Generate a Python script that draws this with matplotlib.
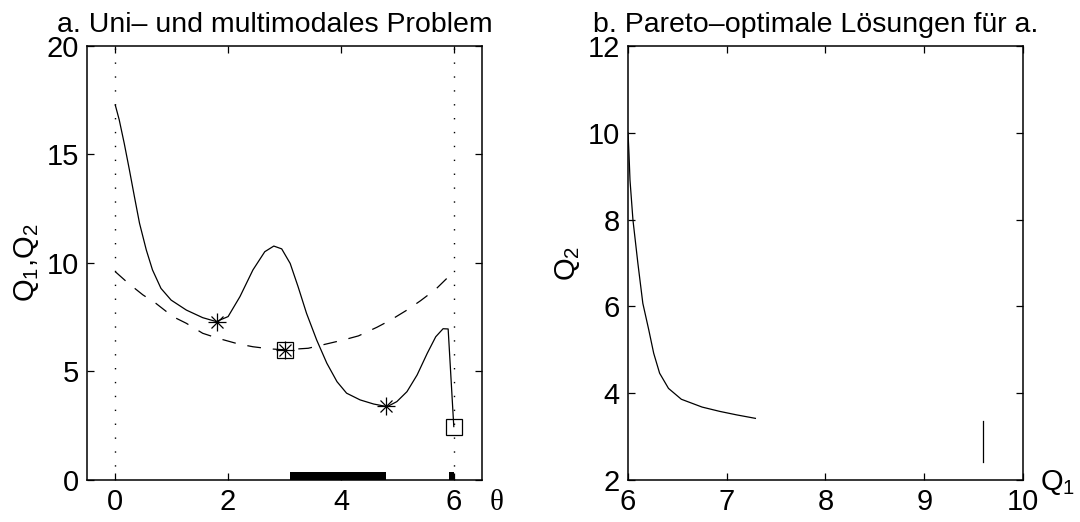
import matplotlib.pyplot as plt
import numpy as np

plt.rcParams['font.family'] = ['Liberation Sans', 'DejaVu Sans']
plt.rcParams['mathtext.fontset'] = 'custom'
plt.rcParams['mathtext.rm'] = 'Liberation Sans'
plt.rcParams['mathtext.it'] = 'Liberation Sans'

# Q1 (solid) over theta
theta_q1 = [0.0, 0.07, 0.16, 0.25, 0.34, 0.43, 0.55, 0.66, 0.81, 0.99, 1.26, 1.55, 1.79,
            2.0, 2.21, 2.44, 2.65, 2.81, 2.95, 3.10, 3.24, 3.39, 3.57, 3.75, 3.93, 4.10,
            4.34, 4.58, 4.82, 4.99, 5.17, 5.35, 5.53, 5.68, 5.81, 5.90, 6.0]
q1 = [17.28, 16.6, 15.5, 14.3, 13.05, 11.83, 10.6, 9.68, 8.83, 8.29, 7.83, 7.48, 7.30,
      7.53, 8.45, 9.68, 10.52, 10.78, 10.65, 9.98, 8.91, 7.68, 6.45, 5.38, 4.53, 4.0,
      3.69, 3.5, 3.38, 3.61, 4.07, 4.84, 5.84, 6.6, 6.97, 6.96, 2.46]

# Q2 (dashed) over theta
theta_q2 = [0.0, 0.22, 0.49, 0.72, 1.02, 1.26, 1.55, 1.82, 2.18, 2.44, 2.75, 3.0, 3.42,
            4.04, 4.31, 4.64, 4.88, 5.17, 5.41, 5.68, 5.90]
q2 = [9.6, 9.09, 8.53, 8.14, 7.53, 7.22, 6.76, 6.53, 6.27, 6.14, 6.04, 6.0, 6.07,
      6.45, 6.64, 7.04, 7.37, 7.83, 8.26, 8.79, 9.35]

# local minima / optima
star_theta = [1.8, 3.0, 4.8]
star_q = [7.3, 6.0, 3.4]
square_theta = [3.0, 6.0]
square_q = [6.0, 2.46]

# pareto set intervals on theta axis (start, end)
pareto_start = [3.1, 5.91]
pareto_end = [4.8, 6.0]
bar_h = 0.38

# pareto front
front_q1 = [6.0, 6.01, 6.02, 6.05, 6.10, 6.15, 6.21, 6.26, 6.32, 6.41, 6.54, 6.75, 6.93, 7.10, 7.29]
front_q2 = [10.0, 9.5, 8.91, 7.99, 6.99, 6.07, 5.46, 4.92, 4.46, 4.11, 3.86, 3.68, 3.58, 3.5, 3.42]
front2_q1 = [9.6, 9.6]
front2_q2 = [3.35, 2.42]

fs = 21
fig = plt.figure(figsize=(10.8, 5.22), dpi=100)
ax1 = fig.add_axes([0.0806, 0.0805, 0.3657, 0.8314])
ax2 = fig.add_axes([0.5815, 0.0805, 0.3657, 0.8314])

# left panel
ax1.axvline(0, color='k', ls=(0, (1, 9)), lw=1.0)
ax1.axvline(6, color='k', ls=(0, (1, 9)), lw=1.0)
ax1.plot(theta_q1, q1, color='k', lw=0.9)
ax1.plot(theta_q2, q2, color='k', lw=0.9, ls=(0, (11, 9.5)))
ax1.plot(star_theta, star_q, ls='none', marker='+', ms=13, mew=0.9, color='k')
ax1.plot(star_theta, star_q, ls='none', marker='x', ms=9, mew=0.9, color='k')
ax1.plot(square_theta, square_q, ls='none', marker='s', ms=11, mew=0.9, mfc='none', mec='k')
ax1.bar(pareto_start, bar_h, width=np.array(pareto_end) - np.array(pareto_start),
        bottom=0, align='edge', color='k', lw=0)
ax1.set_xlim(-0.5, 6.5)
ax1.set_ylim(0, 20)
ax1.set_xticks([0, 2, 4, 6])
ax1.set_yticks([0, 5, 10, 15, 20])
ax1.set_title('a. Uni– und multimodales Problem', fontsize=20.5, pad=10, x=0.475)
ax1.set_ylabel(r'$\mathregular{Q_1{,}Q_2}$', fontsize=fs, labelpad=4)
ax1.text(6.75, -0.45, 'θ', fontsize=fs, family=['Liberation Serif', 'DejaVu Serif'],
         ha='center', va='top')

# right panel
ax2.plot(front_q1, front_q2, color='k', lw=0.9)
ax2.plot(front2_q1, front2_q2, color='k', lw=0.9)
ax2.set_xlim(6, 10)
ax2.set_ylim(2, 12)
ax2.set_xticks([6, 7, 8, 9, 10])
ax2.set_yticks([2, 4, 6, 8, 10, 12])
ax2.set_title('b. Pareto–optimale Lösungen für a.', fontsize=20.5, pad=10, x=0.475)
ax2.set_ylabel(r'$\mathregular{Q_2}$', fontsize=fs, labelpad=4)
ax2.text(10.35, 2.27, r'$\mathregular{Q_1}$', fontsize=fs, ha='center', va='top')

for ax in (ax1, ax2):
    ax.tick_params(direction='in', length=5, width=0.9, top=True, right=True,
                   labelsize=fs, pad=6)
    for sp in ax.spines.values():
        sp.set_linewidth(1.1)

plt.savefig('out.png', dpi=100)
